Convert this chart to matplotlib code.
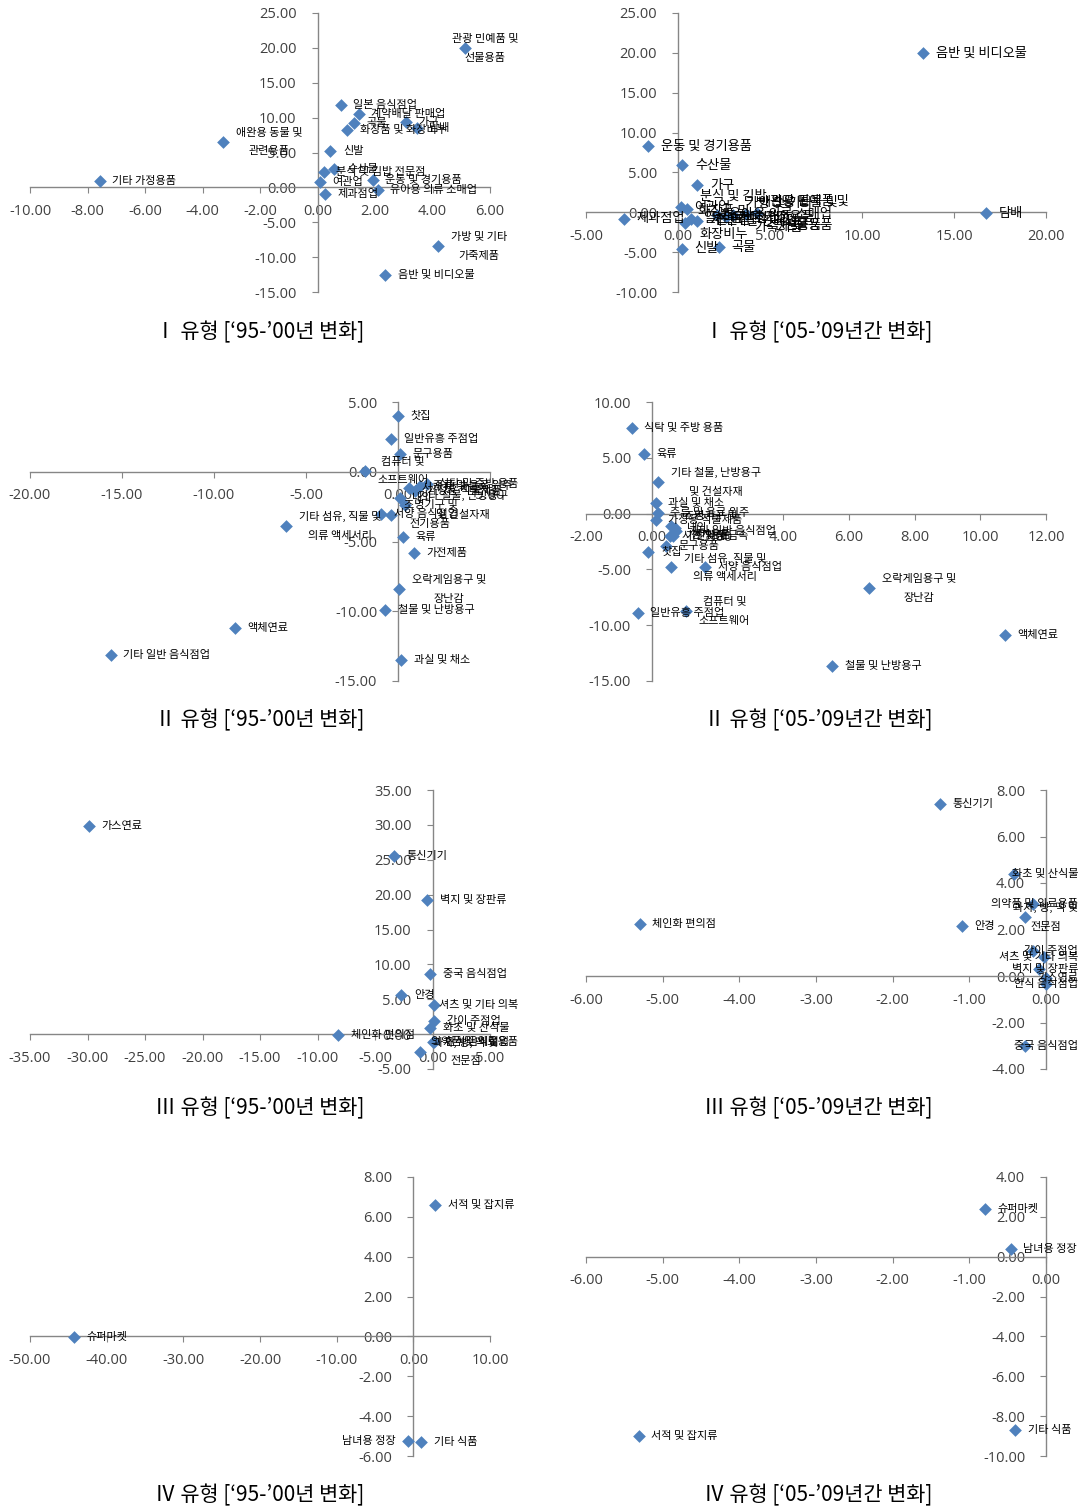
import numpy as np
import matplotlib
matplotlib.use('Agg')
import matplotlib.pyplot as plt
from matplotlib.ticker import FormatStrFormatter

plt.rcParams['font.family'] = ['Noto Sans CJK KR', 'DejaVu Sans']

# I type, '95-'00
i95_names = ['관광 민예품 및\n선물용품', '일본 음식점업', '계약배달 판매업', '곡물', '가구', '담배',
             '화장품 및 화장비누', '애완용 동물 및\n관련용품', '신발', '기타 가정용품', '분식 및 김밥 전문점',
             '수산물', '여관업', '운동 및 경기용품', '유아용 의류 소매업', '제과점업',
             '가방 및 기타\n가죽제품', '음반 및 비디오물']
i95_x = [5.13, 0.80, 1.44, 1.26, 3.09, 3.45, 1.03, -3.28, 0.45, -7.57, 0.21, 0.59, 0.09, 1.92, 2.10, 0.26, 4.20, 2.36]
i95_y = [19.92, 11.78, 10.48, 9.19, 9.38, 8.57, 8.18, 6.50, 5.20, 0.90, 2.20, 2.58, 0.80, 1.00, -0.40, -1.00, -8.45, -12.50]

# I type, '05-'09
i05_names = ['음반 및 비디오물', '운동 및 경기용품', '수산물', '가구', '담배', '제과점업', '신발', '곡물',
             '여관업', '분식 및 김밥\n전문점', '일본 음식점업', '계약배달 판매업', '화장품 및\n화장비누',
             '유아용 의류 소매업', '기타 가정용품', '가방 및 기타\n가죽제품', '애완용 동물 및\n관련용품',
             '관광 민예품 및\n선물용품']
i05_x = [13.33, -1.62, 0.24, 1.05, 16.75, -2.95, 0.21, 2.22, 0.17, 0.49, 0.73, 1.05, 0.39, 2.10, 2.60, 3.00, 3.70, 4.30]
i05_y = [19.98, 8.28, 5.90, 3.38, -0.10, -0.80, -4.57, -4.40, 0.66, 0.46, -0.80, -1.13, -1.34, -0.30, -0.60, -0.40, -0.20, -0.10]

# II type, '95-'00
ii95_names = ['찻집', '일반유흥 주점업', '문구용품', '컴퓨터 및\n소프트웨어', '기타 섬유, 직물 및\n의류 액세서리',
              '서양 음식점업', '조명기구 및\n전기용품', '육류', '가전제품', '오락게임용구 및\n장난감',
              '철물 및 난방용구', '액체연료', '기타 일반 음식점업', '과실 및 채소', '식탁 및 주방 용품',
              '주류 및 음료 위주', '가정용 직물제품', '시계 및 귀금속', '내의', '기타 철물, 난방용구\n및 건설자재']
ii95_x = [-0.02, -0.38, 0.13, -1.80, -6.07, -0.90, -0.38, 0.28, 0.88, 0.08, -0.68, -8.85, -15.60, 0.19,
          1.60, 1.20, 0.90, 0.60, 0.10, 0.40]
ii95_y = [3.97, 2.36, 1.29, 0.05, -3.86, -3.00, -3.07, -4.70, -5.86, -8.42, -9.93, -11.22, -13.13, -13.52,
          -0.90, -1.00, -1.40, -1.20, -1.90, -2.40]

# II type, '05-'09
ii05_names = ['식탁 및 주방 용품', '육류', '기타 철물, 난방용구\n및 건설자재', '과실 및 채소', '주류 및 음료 위주',
              '가정용 직물제품', '조명기구 및\n전기용품', '내의', '시계 및 귀금속', '가전제품', '기타 일반 음식점업',
              '문구용품', '찻집', '기타 섬유, 직물 및\n의류 액세서리', '서양 음식점업', '오락게임용구 및\n장난감',
              '일반유흥 주점업', '컴퓨터 및\n소프트웨어', '액체연료', '철물 및 난방용구']
ii05_x = [-0.61, -0.24, 0.20, 0.13, 0.18, 0.13, 0.60, 0.70, 0.55, 0.65, 0.75, 0.44, -0.10, 0.60, 1.63, 6.62,
          -0.43, 1.05, 10.74, 5.49]
ii05_y = [7.69, 5.30, 2.81, 0.93, 0.03, -0.57, -1.08, -1.29, -1.98, -2.00, -1.60, -2.87, -3.47, -4.82, -4.82,
          -6.68, -8.95, -8.77, -10.87, -13.65]

# III type, '95-'00
iii95_names = ['가스연료', '통신기기', '벽지 및 장판류', '중국 음식점업', '안경', '셔츠 및 기타 의복', '간이 주점업',
               '화초 및 산식물', '체인화 편의점', '한식 음식점업', '의약품 및 의료용품', '과자, 빵, 떡 및\n전문점']
iii95_x = [-29.88, -3.31, -0.45, -0.21, -2.71, 0.15, 0.15, -0.21, -8.19, 0.00, 0.10, -1.05]
iii95_y = [29.90, 25.60, 19.20, 8.63, 5.59, 4.24, 1.83, 0.87, -0.19, -1.06, -1.20, -2.50]

# III type, '05-'09
iii05_names = ['통신기기', '화초 및 산식물', '의약품 및 의료용품', '과자, 빵, 떡 및\n전문점', '체인화 편의점', '안경',
               '간이 주점업', '셔츠 및 기타 의복', '벽지 및 장판류', '가스연료', '한식 음식점업', '중국 음식점업']
iii05_x = [-1.38, -0.42, -0.17, -0.28, -5.30, -1.10, -0.17, -0.02, -0.09, 0.00, 0.00, -0.28]
iii05_y = [7.39, 4.37, 3.09, 2.55, 2.23, 2.17, 1.08, 0.83, 0.30, -0.10, -0.36, -3.00]

# IV type, '95-'00
iv95_names = ['서적 및 잡지류', '슈퍼마켓', '남녀용 정장', '기타 식품']
iv95_x = [2.87, -44.30, -0.64, 1.05]
iv95_y = [6.61, -0.02, -5.25, -5.28]

# IV type, '05-'09
iv05_names = ['슈퍼마켓', '남녀용 정장', '서적 및 잡지류', '기타 식품']
iv05_x = [-0.79, -0.46, -5.31, -0.40]
iv05_y = [2.39, 0.40, -8.99, -8.69]

titles = ['Ⅰ 유형 [‘95-’00년 변화]', 'Ⅰ 유형 [‘05-’09년간 변화]',
          'Ⅱ 유형 [‘95-’00년 변화]', 'Ⅱ 유형 [‘05-’09년간 변화]',
          'Ⅲ 유형 [‘95-’00년 변화]', 'Ⅲ 유형 [‘05-’09년간 변화]',
          'Ⅳ 유형 [‘95-’00년 변화]', 'Ⅳ 유형 [‘05-’09년간 변화]']

BLUE = '#4F81BD'
AXC = '#868686'
labels = []  # (annotation, right limit in px)


def draw(ax, names, xs, ys, xlim, ylim, xstep, ystep, limit, fs=8, left=()):
    ax.scatter(xs, ys, marker='D', s=42, color=BLUE, zorder=3, clip_on=False, linewidths=0)
    for n, x, y in zip(names, xs, ys):
        off, ha = (-9, 'right') if n in left else (9, 'left')
        a = ax.annotate(n, (x, y), xytext=(off, 0), textcoords='offset points', ha=ha,
                        va='center', fontsize=fs, linespacing=2.1, multialignment='center',
                        zorder=4, annotation_clip=False)
        labels.append((a, limit))
    ax.set_xlim(*xlim)
    ax.set_ylim(*ylim)
    ax.set_xticks(np.arange(xlim[0], xlim[1] + xstep / 2, xstep))
    ax.set_yticks(np.arange(ylim[0], ylim[1] + ystep / 2, ystep))
    ax.xaxis.set_major_formatter(FormatStrFormatter('%.2f'))
    ax.yaxis.set_major_formatter(FormatStrFormatter('%.2f'))
    ax.spines['left'].set_position(('data', 0))
    ax.spines['bottom'].set_position(('data', 0))
    ax.spines['top'].set_visible(False)
    ax.spines['right'].set_visible(False)
    for s in ('left', 'bottom'):
        ax.spines[s].set_color(AXC)
        ax.spines[s].set_linewidth(1.0)
    ax.tick_params(direction='out', length=4, color=AXC, labelcolor='#404040', labelsize=10.5)
    ax.tick_params(axis='x', pad=8)
    ax.tick_params(axis='y', pad=11)
    for t in ax.get_xticklabels() + ax.get_yticklabels():
        t.set_family(['Open Sans', 'DejaVu Sans'])
    ax.patch.set_alpha(0)


fig = plt.figure(figsize=(10.8, 15.11), dpi=100)

W, H = 1080, 1511
col_left = [30, 586]
col_limit = [518, 1078]
row_top = [13, 402, 790, 1177]
aw, ah = 460, 279


def add_axes(col, row):
    return fig.add_axes([col_left[col] / W, 1 - (row_top[row] + ah) / H, aw / W, ah / H])


draw(add_axes(0, 0), i95_names, i95_x, i95_y, (-10, 6), (-15, 25), 2, 5, col_limit[0])
draw(add_axes(1, 0), i05_names, i05_x, i05_y, (-5, 20), (-10, 25), 5, 5, col_limit[1], fs=9.5)
draw(add_axes(0, 1), ii95_names, ii95_x, ii95_y, (-20, 5), (-15, 5), 5, 5, col_limit[0])
draw(add_axes(1, 1), ii05_names, ii05_x, ii05_y, (-2, 12), (-15, 10), 2, 5, col_limit[1])
draw(add_axes(0, 2), iii95_names, iii95_x, iii95_y, (-35, 5), (-5, 35), 5, 5, col_limit[0])
draw(add_axes(1, 2), iii05_names, iii05_x, iii05_y, (-6, 0), (-4, 8), 1, 2, col_limit[1])
draw(add_axes(0, 3), iv95_names, iv95_x, iv95_y, (-50, 10), (-6, 8), 10, 2, col_limit[0],
     left=('남녀용 정장',))
draw(add_axes(1, 3), iv05_names, iv05_x, iv05_y, (-6, 0), (-10, 4), 1, 2, col_limit[1])

title_x = [260, 818]
title_y = [332, 720, 1108, 1495]
for i, t in enumerate(titles):
    fig.text(title_x[i % 2] / W, 1 - title_y[i // 2] / H, t, ha='center', va='center', fontsize=15)

# keep data labels inside the chart area, like the spreadsheet does
fig.canvas.draw()
renderer = fig.canvas.get_renderer()
for a, limit in labels:
    bb = a.get_window_extent(renderer)
    if bb.x1 > limit:
        dx = (bb.x1 - limit) * 72 / fig.dpi
        x0, y0 = a.xyann
        a.xyann = (x0 - dx, y0)

fig.savefig('out.png', dpi=100)
